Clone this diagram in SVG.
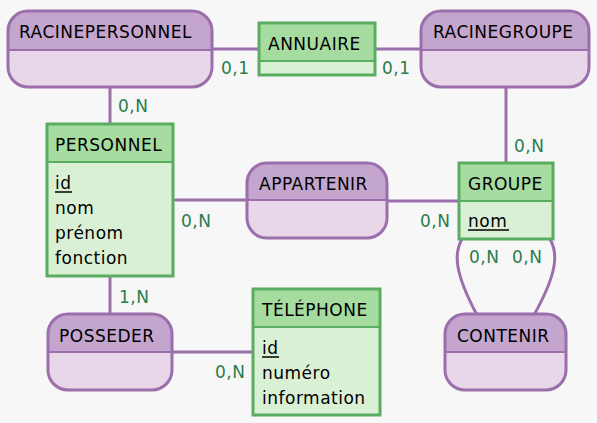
<svg xmlns="http://www.w3.org/2000/svg" width="597" height="423" viewBox="0 0 597 423">
<style>
text{font-family:"DejaVu Sans","Verdana",sans-serif;font-size:17px;letter-spacing:0.5px;fill:#000}
.lbl{fill:#2a7d4c}
.conn{stroke:#9b6fac;stroke-width:3;fill:none}
.ah{fill:#c3a5cd}
.ab{fill:#e8d6e9}
.ao{fill:none;stroke:#9b6fac;stroke-width:3}
.eh{fill:#a7dca0}
.eb{fill:#daf0d5}
.eo{fill:none;stroke:#5aad60;stroke-width:3}
.sep{stroke:#9b6fac;stroke-width:2}
.sepe{stroke:#5aad60;stroke-width:2}
.ul{stroke:#000;stroke-width:1.5}
</style>
<rect width="597" height="423" fill="#f7f7f7"/>
<g id="connectors">
<line class="conn" x1="212" y1="49" x2="259" y2="49"/>
<line class="conn" x1="375" y1="49" x2="421" y2="49"/>
<line class="conn" x1="110" y1="87" x2="110" y2="124"/>
<line class="conn" x1="506" y1="87" x2="506" y2="163"/>
<line class="conn" x1="173" y1="200" x2="247" y2="200"/>
<line class="conn" x1="387" y1="201" x2="459" y2="201"/>
<line class="conn" x1="110" y1="276" x2="110" y2="314"/>
<line class="conn" x1="172" y1="352" x2="253" y2="352"/>
<path class="conn" d="M 462 239 C 454 253, 454 272, 477 315"/>
<path class="conn" d="M 550 239 C 558 253, 558 272, 534 315"/>
<text class="lbl" x="221" y="74">0,1</text>
<text class="lbl" x="382" y="74">0,1</text>
<text class="lbl" x="118" y="112">0,N</text>
<text class="lbl" x="514" y="152">0,N</text>
<text class="lbl" x="181" y="227">0,N</text>
<text class="lbl" x="420" y="227">0,N</text>
<text class="lbl" x="469" y="263">0,N</text>
<text class="lbl" x="512" y="263">0,N</text>
<text class="lbl" x="119" y="303">1,N</text>
<text class="lbl" x="215" y="378">0,N</text>
</g>
<g id="racinepersonnel">
<path class="ah" d="M 8 50 V 31 A 20 20 0 0 1 28 11 H 192 A 20 20 0 0 1 212 31 V 50 Z"/>
<path class="ab" d="M 8 50 H 212 V 67 A 20 20 0 0 1 192 87 H 28 A 20 20 0 0 1 8 67 Z"/>
<line class="sep" x1="8" y1="50" x2="212" y2="50"/>
<rect class="ao" x="8" y="11" width="204" height="76" rx="20"/>
<text x="19" y="38">RACINEPERSONNEL</text>
</g>
<g id="annuaire">
<rect class="eh" x="259" y="23" width="116" height="38"/>
<rect class="eb" x="259" y="61" width="116" height="14"/>
<line class="sepe" x1="259" y1="61" x2="375" y2="61"/>
<rect class="eo" x="259" y="23" width="116" height="52"/>
<text x="268" y="50">ANNUAIRE</text>
</g>
<g id="racinegroupe">
<path class="ah" d="M 421 50 V 31 A 20 20 0 0 1 441 11 H 569 A 20 20 0 0 1 589 31 V 50 Z"/>
<path class="ab" d="M 421 50 H 589 V 67 A 20 20 0 0 1 569 87 H 441 A 20 20 0 0 1 421 67 Z"/>
<line class="sep" x1="421" y1="50" x2="589" y2="50"/>
<rect class="ao" x="421" y="11" width="168" height="76" rx="20"/>
<text x="433" y="38">RACINEGROUPE</text>
</g>
<g id="personnel">
<rect class="eh" x="47" y="124" width="126" height="38"/>
<rect class="eb" x="47" y="162" width="126" height="114"/>
<line class="sepe" x1="47" y1="162" x2="173" y2="162"/>
<rect class="eo" x="47" y="124" width="126" height="152"/>
<text x="55" y="151">PERSONNEL</text>
<text x="55" y="189">id</text>
<line class="ul" x1="55" y1="192" x2="72" y2="192"/>
<text x="55" y="214">nom</text>
<text x="55" y="239">prénom</text>
<text x="55" y="264">fonction</text>
</g>
<g id="appartenir">
<path class="ah" d="M 247 200 V 183 A 20 20 0 0 1 267 163 H 367 A 20 20 0 0 1 387 183 V 200 Z"/>
<path class="ab" d="M 247 200 H 387 V 218 A 20 20 0 0 1 367 238 H 267 A 20 20 0 0 1 247 218 Z"/>
<line class="sep" x1="247" y1="200" x2="387" y2="200"/>
<rect class="ao" x="247" y="163" width="140" height="75" rx="20"/>
<text x="259" y="190">APPARTENIR</text>
</g>
<g id="groupe">
<rect class="eh" x="459" y="163" width="94" height="38"/>
<rect class="eb" x="459" y="201" width="94" height="38"/>
<line class="sepe" x1="459" y1="201" x2="553" y2="201"/>
<rect class="eo" x="459" y="163" width="94" height="76"/>
<text x="468" y="190">GROUPE</text>
<text x="468" y="227">nom</text>
<line class="ul" x1="468" y1="230" x2="509" y2="230"/>
</g>
<g id="posseder">
<path class="ah" d="M 48 352 V 334 A 20 20 0 0 1 68 314 H 152 A 20 20 0 0 1 172 334 V 352 Z"/>
<path class="ab" d="M 48 352 H 172 V 370 A 20 20 0 0 1 152 390 H 68 A 20 20 0 0 1 48 370 Z"/>
<line class="sep" x1="48" y1="352" x2="172" y2="352"/>
<rect class="ao" x="48" y="314" width="124" height="76" rx="20"/>
<text x="59" y="342">POSSEDER</text>
</g>
<g id="telephone">
<rect class="eh" x="253" y="289" width="127" height="38"/>
<rect class="eb" x="253" y="327" width="127" height="88"/>
<line class="sepe" x1="253" y1="327" x2="380" y2="327"/>
<rect class="eo" x="253" y="289" width="127" height="126"/>
<text x="262" y="316">TÉLÉPHONE</text>
<text x="262" y="354">id</text>
<line class="ul" x1="262" y1="357" x2="279" y2="357"/>
<text x="262" y="379">numéro</text>
<text x="262" y="404">information</text>
</g>
<g id="contenir">
<path class="ah" d="M 445 352 V 334 A 20 20 0 0 1 465 314 H 546 A 20 20 0 0 1 566 334 V 352 Z"/>
<path class="ab" d="M 445 352 H 566 V 370 A 20 20 0 0 1 546 390 H 465 A 20 20 0 0 1 445 370 Z"/>
<line class="sep" x1="445" y1="352" x2="566" y2="352"/>
<rect class="ao" x="445" y="314" width="121" height="76" rx="20"/>
<text x="457" y="342">CONTENIR</text>
</g>
</svg>
